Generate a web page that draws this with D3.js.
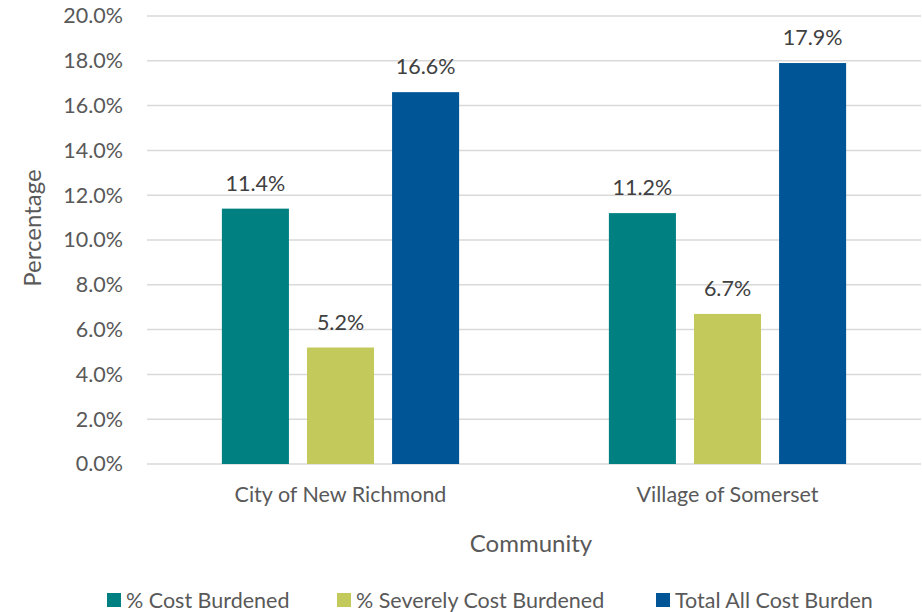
<!DOCTYPE html>
<html>
<head>
<meta charset="utf-8">
<script src="https://cdn.jsdelivr.net/npm/d3@7"></script>
<style>
  html, body { margin: 0; padding: 0; background: #fff; }
  svg text { font-family: Lato, "Open Sans", sans-serif; }
</style>
</head>
<body>
<svg id="chart" width="922" height="612"></svg>
<script>
// Housing cost burden by community
const communities = ["City of New Richmond", "Village of Somerset"];
const seriesNames = ["% Cost Burdened", "% Severely Cost Burdened", "Total All Cost Burden"];
const costBurdened = [11.4, 11.2];
const severelyCostBurdened = [5.2, 6.7];
const totalAllCostBurden = [16.6, 17.9];
const yTicks = [0, 2, 4, 6, 8, 10, 12, 14, 16, 18, 20];
const colors = ["#008080", "#c4c95c", "#005597"];

const seriesValues = [costBurdened, severelyCostBurdened, totalAllCostBurden];

const svg = d3.select("#chart");
const plotLeft = 147, plotRight = 921, plotTop = 16, plotBottom = 464;
const labelSize = "21.5px", titleSize = "24px";

const x0 = d3.scaleBand().domain(communities).range([plotLeft, plotRight]).paddingInner(0).paddingOuter(0);
const x1 = d3.scaleBand().domain(seriesNames).range([0, x0.bandwidth()]).paddingInner(0.212).paddingOuter(0.88);
const y = d3.scaleLinear().domain([0, 20]).range([plotBottom, plotTop]);

// gridlines
svg.append("g").selectAll("line").data(yTicks).join("line")
  .attr("x1", plotLeft).attr("x2", plotRight)
  .attr("y1", d => y(d)).attr("y2", d => y(d))
  .attr("stroke", "#d9d9d9").attr("stroke-width", 1.5);

// y axis labels
const yAxis = d3.axisLeft(y).tickValues(yTicks).tickFormat(d => d.toFixed(1) + "%").tickSize(0).tickPadding(24);
const yg = svg.append("g").attr("transform", `translate(${plotLeft},0)`).call(yAxis);
yg.select(".domain").remove();
yg.selectAll("text").attr("fill", "#595959").style("font-size", labelSize).style("font-family", "Lato, sans-serif");

// bars
const groups = svg.append("g").selectAll("g").data(communities).join("g")
  .attr("transform", d => `translate(${x0(d)},0)`);

groups.each(function(c, ci) {
  const g = d3.select(this);
  seriesNames.forEach((s, si) => {
    const v = seriesValues[si][ci];
    g.append("rect")
      .attr("x", x1(s)).attr("width", x1.bandwidth())
      .attr("y", y(v)).attr("height", y(0) - y(v))
      .attr("fill", colors[si]);
    g.append("text")
      .attr("x", x1(s) + x1.bandwidth() / 2)
      .attr("y", y(v) - 18)
      .attr("text-anchor", "middle")
      .attr("fill", "#404040")
      .style("font-size", labelSize)
      .text(v.toFixed(1) + "%");
  });
});

// category labels
const xAxis = d3.axisBottom(x0).tickSize(0).tickPadding(23);
const xg = svg.append("g").attr("transform", `translate(0,${plotBottom})`).call(xAxis);
xg.select(".domain").remove();
xg.selectAll("text").attr("fill", "#595959").style("font-size", labelSize).style("font-family", "Lato, sans-serif");

// axis titles
svg.append("text")
  .attr("transform", "translate(41,228) rotate(-90)")
  .attr("text-anchor", "middle").attr("fill", "#595959").style("font-size", titleSize)
  .text("Percentage");
svg.append("text")
  .attr("x", 531).attr("y", 552)
  .attr("text-anchor", "middle").attr("fill", "#595959").style("font-size", titleSize)
  .text("Community");

// legend
const legendX = [107, 337, 656];
const leg = svg.append("g").selectAll("g").data(seriesNames).join("g")
  .attr("transform", (d, i) => `translate(${legendX[i]},593)`);
leg.append("rect").attr("width", 14).attr("height", 14).attr("fill", (d, i) => colors[i]);
leg.append("text").attr("x", 19).attr("y", 14.5)
  .attr("fill", "#595959").style("font-size", labelSize).text(d => d);
</script>
</body>
</html>
